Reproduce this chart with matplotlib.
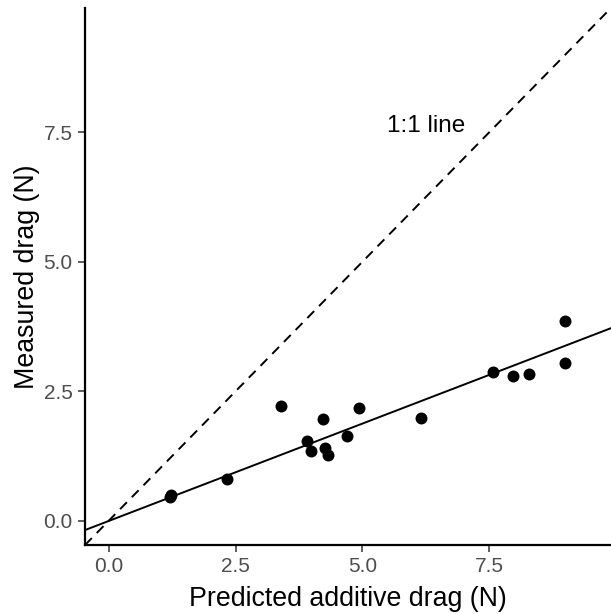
import matplotlib
matplotlib.use("Agg")
import matplotlib.pyplot as plt
import numpy as np

plt.rcParams['font.family'] = ['Liberation Sans', 'DejaVu Sans']

predicted = [1.20, 1.23, 2.32, 3.40, 3.91, 3.99, 4.23, 4.27, 4.32, 4.69, 4.93,
             6.16, 7.57, 7.97, 8.28, 8.99, 8.99]
measured = [0.46, 0.50, 0.81, 2.21, 1.54, 1.35, 1.97, 1.40, 1.27, 1.64, 2.17,
            1.99, 2.87, 2.80, 2.84, 3.86, 3.04]
fit_slope = 0.376
fit_intercept = -0.005
x_ticks = [0.0, 2.5, 5.0, 7.5]
y_ticks = [0.0, 2.5, 5.0, 7.5]
x_lim = (-0.47, 9.9)
y_lim = (-0.47, 9.9)

fig = plt.figure(figsize=(6.11, 6.14), dpi=100)
ax = fig.add_axes([85/611, (614-545)/614, (611-85)/611, (545-8)/614])

ax.axline((0, 0), slope=1, color='black', lw=1.4, ls=(0, (5.0, 3.6)), zorder=2)
ax.axline((0, fit_intercept), slope=fit_slope, color='black', lw=1.4, zorder=2)
ax.plot(predicted, measured, 'o', color='black', ms=8.6, mew=0, zorder=3)
ax.text(6.26, 7.62, '1:1 line', fontsize=17.5, ha='center', va='center', color='black')

ax.set_xlim(*x_lim)
ax.set_ylim(*y_lim)
ax.set_xticks(x_ticks)
ax.set_yticks(y_ticks)
ax.set_xticklabels([f'{v:.1f}' for v in x_ticks])
ax.set_yticklabels([f'{v:.1f}' for v in y_ticks])
ax.tick_params(labelsize=15, labelcolor='#4D4D4D', color='#333333', length=5, width=1.1, pad=4)
for s in ['top', 'right']:
    ax.spines[s].set_visible(False)
for s in ['left', 'bottom']:
    ax.spines[s].set_linewidth(1.6)
    ax.spines[s].set_color('black')
ax.set_xlabel('Predicted additive drag (N)', fontsize=19.3, labelpad=7)
ax.set_ylabel('Measured drag (N)', fontsize=19.3, labelpad=2)

fig.savefig('out.png', dpi=100)
